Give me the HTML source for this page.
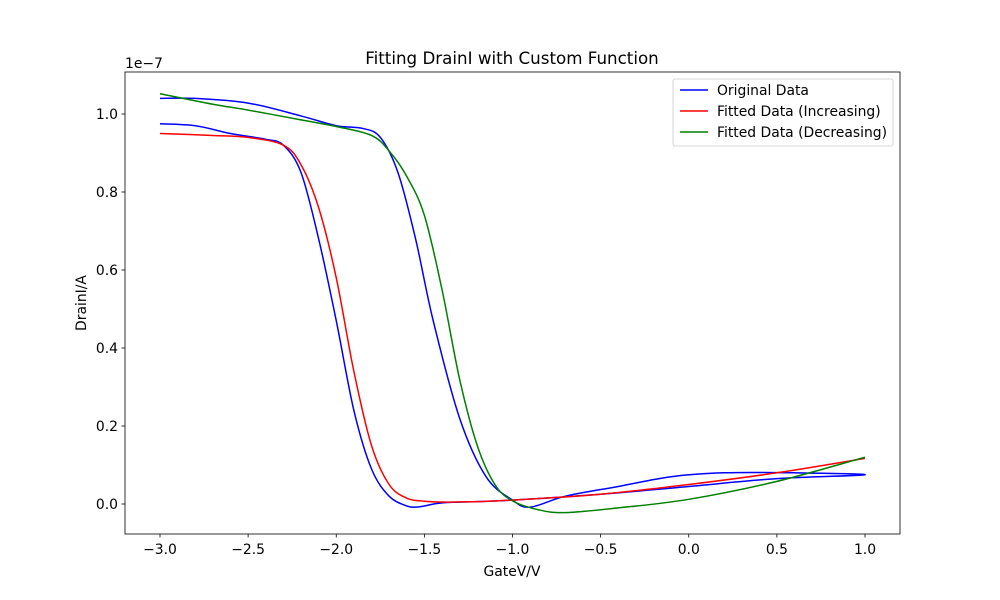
<!DOCTYPE html>
<html><head><meta charset="utf-8"><style>
body{margin:0;background:#fff}
svg{font-family:"DejaVu Sans","Liberation Sans",sans-serif;display:block}
</style></head><body>
<svg id="chart" width="1000" height="600">
<rect x="0" y="0" width="1000" height="600" fill="#fff"/>
<g id="marks"></g>
<g id="axes"></g>
<text x="125" y="68" font-size="13.9">1e−7</text>
<text x="512" y="64" font-size="16.7" text-anchor="middle">Fitting DrainI with Custom Function</text>
<text x="512" y="576" font-size="13.9" text-anchor="middle">GateV/V</text>
<text x="0" y="0" font-size="13.9" text-anchor="middle" transform="translate(86,303) rotate(-90)">DrainI/A</text>
<g>
<rect x="673" y="79" width="220" height="67" rx="2" fill="#fff" fill-opacity="0.8" stroke="#ccc" stroke-width="0.8"/>
<line x1="680" y1="90" x2="708" y2="90" stroke="#0000ff" stroke-width="1.5"/>
<text x="717" y="95" font-size="13.9">Original Data</text>
<line x1="680" y1="111" x2="708" y2="111" stroke="#ff0000" stroke-width="1.5"/>
<text x="717" y="116" font-size="13.9">Fitted Data (Increasing)</text>
<line x1="680" y1="132" x2="708" y2="132" stroke="#008000" stroke-width="1.5"/>
<text x="717" y="137" font-size="13.9">Fitted Data (Decreasing)</text>
</g>
</svg>
<script>
const xTicks=[-3.0,-2.5,-2.0,-1.5,-1.0,-0.5,0.0,0.5,1.0];
const xTickLabels=["−3.0","−2.5","−2.0","−1.5","−1.0","−0.5","0.0","0.5","1.0"];
const yTicks=[0.0,0.2,0.4,0.6,0.8,1.0];
const yTickLabels=["0.0","0.2","0.4","0.6","0.8","1.0"];
const origX=[-3,-2.8,-2.6,-2.4,-2.3,-2.2,-2.1,-2.0,-1.9,-1.8,-1.7,-1.6,-1.55,-1.5,-1.4,-1.2,-1.0,-0.5,0,0.5,1.0,0.6,0.2,-0.1,-0.4,-0.7,-0.9,-1.0,-1.15,-1.3,-1.45,-1.55,-1.65,-1.75,-1.85,-2.0,-2.2,-2.5,-2.8,-3.0];
const origY=[0.975,0.97,0.95,0.935,0.92,0.85,0.68,0.47,0.24,0.09,0.02,-0.005,-0.008,-0.005,0.003,0.006,0.01,0.025,0.045,0.065,0.075,0.08,0.08,0.07,0.045,0.02,-0.008,0.01,0.07,0.22,0.47,0.68,0.85,0.94,0.963,0.97,0.995,1.028,1.04,1.04];
const incX=[-3,-2.7,-2.5,-2.3,-2.2,-2.1,-2.0,-1.9,-1.8,-1.7,-1.6,-1.5,-1.4,-1.2,-1.0,-0.5,0,0.5,1.0];
const incY=[0.95,0.945,0.94,0.92,0.87,0.76,0.58,0.34,0.15,0.05,0.015,0.007,0.005,0.006,0.01,0.025,0.05,0.08,0.117];
const decX=[-3,-2.7,-2.5,-2.2,-2.0,-1.8,-1.7,-1.6,-1.5,-1.4,-1.3,-1.2,-1.1,-1.0,-0.85,-0.7,-0.4,0,0.5,1.0];
const decY=[1.052,1.025,1.01,0.985,0.968,0.945,0.905,0.84,0.74,0.55,0.32,0.15,0.05,0.008,-0.015,-0.022,-0.01,0.012,0.058,0.12];
const xs=v=>160+(v+3)*176.25, ys=v=>504-v*390;
const NS='http://www.w3.org/2000/svg';
function mk(t,a,p){const e=document.createElementNS(NS,t);for(const k in a)e.setAttribute(k,a[k]);p.appendChild(e);return e;}
function path(X,Y){const P=X.map((x,i)=>[xs(x),ys(Y[i])]);let d='M'+P[0][0]+','+P[0][1];
for(let i=0;i<P.length-1;i++){const p0=P[Math.max(i-1,0)],p1=P[i],p2=P[i+1],p3=P[Math.min(i+2,P.length-1)];
d+=` C${p1[0]+(p2[0]-p0[0])/6},${p1[1]+(p2[1]-p0[1])/6} ${p2[0]-(p3[0]-p1[0])/6},${p2[1]-(p3[1]-p1[1])/6} ${p2[0]},${p2[1]}`;}return d;}
const M=document.getElementById('marks'),A=document.getElementById('axes');
let e;
e=mk('path',{d:path(origX,origY),fill:'none',stroke:'#0000ff','stroke-width':1.5},M);


e=mk('path',{d:path(incX,incY),fill:'none',stroke:'#ff0000','stroke-width':1.5},M);


e=mk('path',{d:path(decX,decY),fill:'none',stroke:'#008000','stroke-width':1.5},M);


e=mk('rect',{x:125,y:72,width:775,height:462,fill:'none',stroke:'#000','stroke-width':0.8},A);


xTicks.forEach((v,i)=>{mk('line',{x1:xs(v),x2:xs(v),y1:534,y2:537.5,stroke:'#000','stroke-width':0.8},A);
const t=mk('text',{x:xs(v),y:554,'text-anchor':'middle','font-size':13.9},A);t.textContent=xTickLabels[i];

});
yTicks.forEach((v,i)=>{mk('line',{x1:121.5,x2:125,y1:ys(v),y2:ys(v),stroke:'#000','stroke-width':0.8},A);
const t=mk('text',{x:118,y:ys(v)+5,'text-anchor':'end','font-size':13.9},A);t.textContent=yTickLabels[i];

});
</script>
</body></html>
